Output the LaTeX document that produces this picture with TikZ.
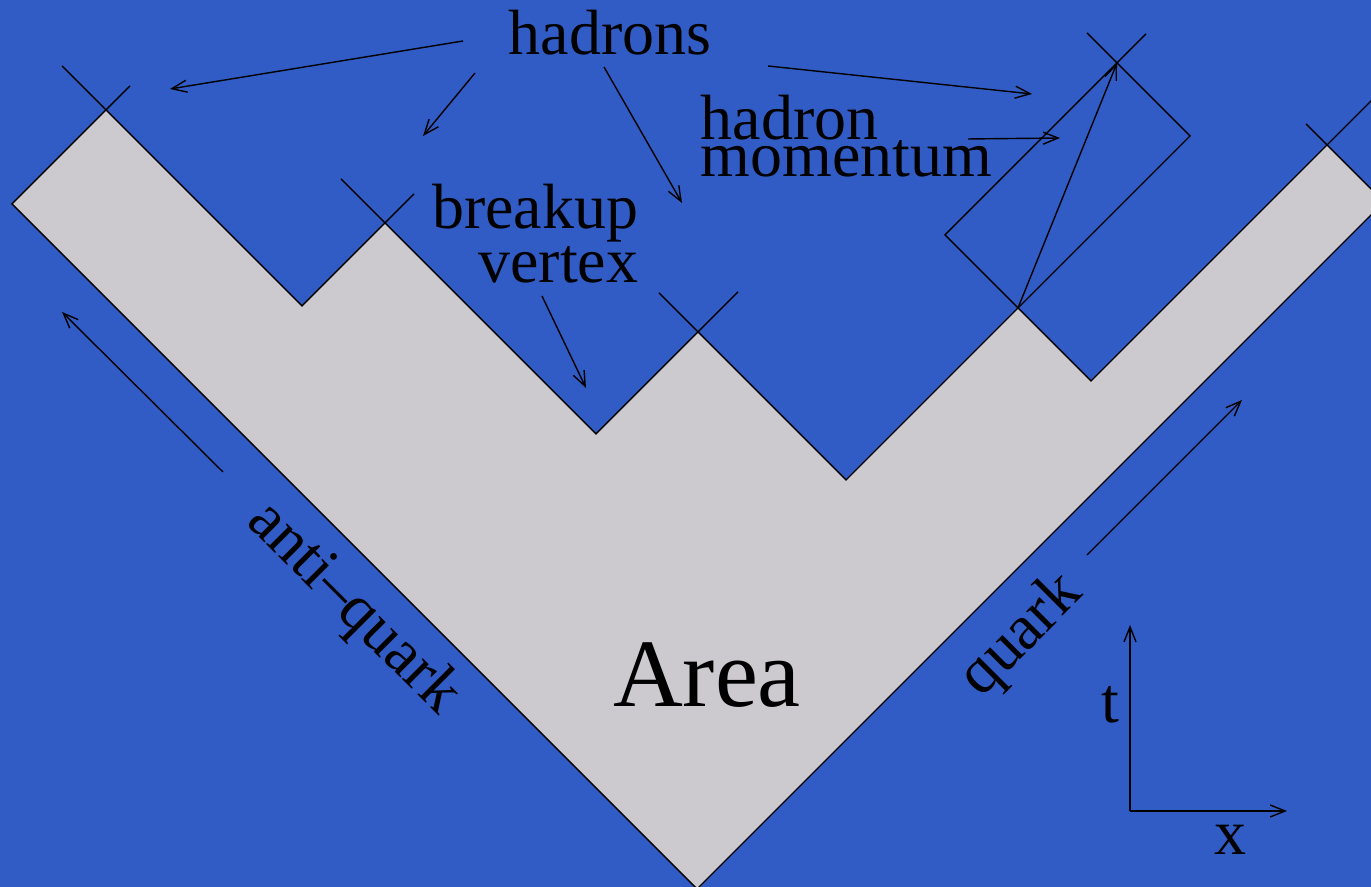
\documentclass[tikz,border=0pt]{standalone}
\usepackage{fontspec}
\setmainfont{Liberation Serif}
\usetikzlibrary{arrows.meta}
\usepackage{xcolor}
\definecolor{skyCol}{HTML}{325CC5}
\definecolor{areaCol}{HTML}{CCCACE}

\begin{document}
\begin{tikzpicture}[
    wire/.style={draw=black, line width=0.4pt},
    sheet/.style={fill=areaCol, draw=black, line width=0.4pt, line join=miter},
    pointer/.style={-{Straight Barb[length=1.5mm, width=1.2mm]}, draw=black, line width=0.4pt},
    word/.style={font=\fontsize{18.2}{15.4}\selectfont, inner sep=0pt},
    bigword/.style={font=\fontsize{27.5}{30}\selectfont, inner sep=0pt}
]

% =====================================================================
% BACKGROUND
% =====================================================================
\fill[skyCol] (0,0) rectangle (13.71,8.87);
\useasboundingbox (0,0) rectangle (13.71,8.87);
\clip (0,0) rectangle (13.71,8.87);

% =====================================================================
% STRING AREA (corners)
% =====================================================================
\coordinate (qbarTop) at (1.06,7.77);
\coordinate (qbarOut) at (0.12,6.83);
\coordinate (apex) at (6.97,-0.02);
\coordinate (qOut) at (13.84,6.85);
\coordinate (qTop) at (13.27,7.42);
\coordinate (v1) at (3.02,5.81);
\coordinate (b1) at (3.85,6.64);
\coordinate (v2) at (5.96,4.53);
\coordinate (b2) at (6.98,5.55);
\coordinate (v3) at (8.46,4.07);
\coordinate (b3) at (10.18,5.79);
\coordinate (v4) at (10.91,5.06);

\draw[sheet] (qbarTop) -- (qbarOut) -- (apex) -- (qOut) -- (qTop) -- (v4)
    -- (b3) -- (v3) -- (b2) -- (v2) -- (b1) -- (v1) -- cycle;

% hadron light cone
\coordinate (hLeft) at (9.45,6.52);
\coordinate (hTop) at (11.17,8.24);
\coordinate (hRight) at (11.90,7.51);
\draw[wire] (b3) -- (hLeft) -- (hTop) -- (hRight) -- cycle;
\draw[pointer] (b3) -- (hTop);

% crosses at the vertices
\foreach \v/\l/\r in {qbarTop/0.44/0.24, b1/0.44/0.29, b2/0.39/0.40, qTop/0.21/0.60, hTop/0.30/0.29}
    \draw[wire] (\v) -- ++(-\l,\l) (\v) -- ++(\r,\r);

% =====================================================================
% LABELS
% =====================================================================
\node[word, anchor=base] (hadrons) at (6.10,8.32) {hadrons};
\node[word, anchor=north west, align=left, font=\fontsize{18.2}{10.6}\selectfont] (momentum) at (7.00,7.93) {hadron\\momentum};
\node[word, anchor=north east, align=right] (breakup) at (6.39,7.04) {breakup\\vertex};
\node[word, rotate=-45] (antiquark) at (3.53,2.78) {anti--quark};
\node[word, rotate=45] (quark) at (10.22,2.51) {quark};
\node[bigword, anchor=base] (area) at (7.07,1.80) {Area};
\node[word] (tlab) at (11.10,1.82) {t};
\node[word] (xlab) at (12.30,0.47) {x};

% =====================================================================
% ARROWS
% =====================================================================
\coordinate (h1s) at (4.63,8.46);  \coordinate (h1e) at (1.70,7.98);
\coordinate (h2s) at (4.75,8.14);  \coordinate (h2e) at (4.23,7.51);
\coordinate (h3s) at (6.04,8.20);  \coordinate (h3e) at (6.82,6.84);
\coordinate (h4s) at (7.68,8.21);  \coordinate (h4e) at (10.32,7.93);
\coordinate (ms) at (9.68,7.48);   \coordinate (me) at (10.60,7.49);
\coordinate (bs) at (5.42,5.91);   \coordinate (be) at (5.86,4.99);
\coordinate (aqs) at (2.23,4.15);  \coordinate (aqe) at (0.62,5.75);
\coordinate (qs) at (10.87,3.32);  \coordinate (qe) at (12.42,4.87);

\foreach \s/\e in {h1s/h1e, h2s/h2e, h3s/h3e, h4s/h4e, ms/me, bs/be, aqs/aqe, qs/qe}
    \draw[pointer] (\s) -- (\e);

% axes
\coordinate (orig) at (11.30,0.76);
\coordinate (tEnd) at (11.30,2.62);
\coordinate (xEnd) at (12.87,0.76);
\draw[pointer] (orig) -- (tEnd);
\draw[pointer] (orig) -- (xEnd);

\end{tikzpicture}
\end{document}
